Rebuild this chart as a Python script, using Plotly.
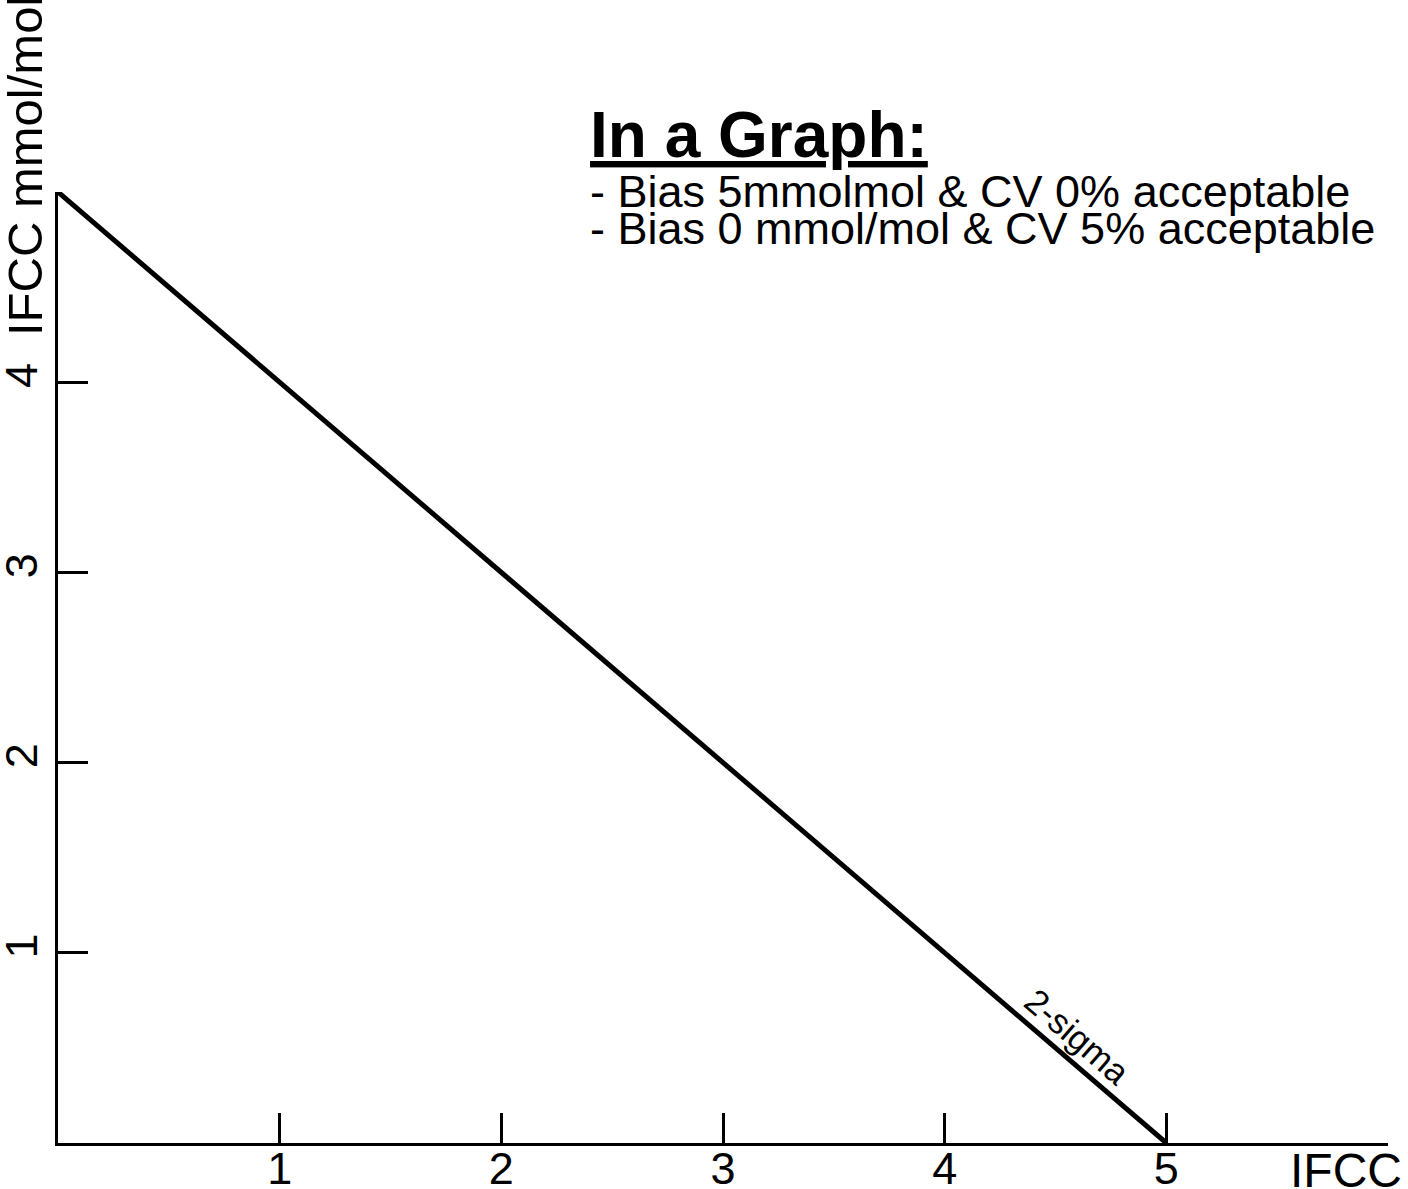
import plotly.graph_objects as go

# Data
line_x = [0, 5]
line_y = [5, 0]
x_tickvals = [1, 2, 3, 4, 5, 6]
x_ticktext = ["1", "2", "3", "4", "5", ""]
y_tickvals = [1, 2, 3, 4, 5]
y_ticktext = ["1", "2", "3", "4", ""]
x_axis_label = "IFCC"
y_axis_label = "IFCC mmol/mol"
line_label = "2-sigma"
title_text = "In a Graph:"
bullets = ["- Bias 5mmolmol & CV 0% acceptable", "- Bias 0 mmol/mol & CV 5% acceptable"]

W, H = 1408, 1189
L, R, T, B = 58, 20, 192, 46
PW, PH = W - L - R, H - T - B


def px(xp):
    return (xp - L) / PW


def py(yp):
    return (H - B - yp) / PH


fig = go.Figure()
fig.add_trace(go.Scatter(x=line_x, y=line_y, mode="lines",
                         line=dict(color="black", width=5), showlegend=False,
                         hoverinfo="skip", cliponaxis=False))

font_main = "Liberation Sans, Arial, sans-serif"

fig.update_layout(
    width=W, height=H,
    margin=dict(l=L, r=R, t=T, b=B, autoexpand=False),
    paper_bgcolor="white", plot_bgcolor="white",
    showlegend=False,
    xaxis=dict(range=[0, 6], tickvals=x_tickvals, ticktext=x_ticktext,
               ticks="inside", ticklen=30, tickwidth=3, tickcolor="black",
               showline=True, linecolor="black", linewidth=3,
               showgrid=False, zeroline=False, automargin=False,
               ticklabelstandoff=-16,
               tickfont=dict(family=font_main, size=45, color="black")),
    yaxis=dict(range=[0, 5], tickvals=y_tickvals, ticktext=y_ticktext,
               ticks="inside", ticklen=30, tickwidth=3, tickcolor="black",
               showline=True, linecolor="black", linewidth=3,
               showgrid=False, zeroline=False, tickangle=-90, automargin=False,
               tickfont=dict(family=font_main, size=45, color="black")),
)

# axis-end labels
fig.add_annotation(x=px(1404), y=py(1142), xref="paper", yref="paper",
                   xanchor="right", yanchor="top",
                   text=x_axis_label, showarrow=False,
                   font=dict(family=font_main, size=48, color="black"))
fig.add_annotation(x=px(54), y=py(338), xref="paper", yref="paper",
                   xanchor="right", yanchor="bottom",
                   text=y_axis_label, showarrow=False, textangle=-90,
                   font=dict(family=font_main, size=49, color="black"))

# label along the line
fig.add_annotation(x=4.60, y=0.56, xref="x", yref="y", text=line_label, showarrow=False,
                   textangle=40.8, font=dict(family=font_main, size=35, color="black"))

# heading text
fig.add_annotation(x=px(588), y=py(135), xref="paper", yref="paper",
                   xanchor="left", yanchor="middle",
                   text="<b><u>" + title_text + "</u></b>", showarrow=False,
                   font=dict(family=font_main, size=64, color="black"))
for i, b in enumerate(bullets):
    fig.add_annotation(x=px(588), y=py(191 + 37 * i), xref="paper", yref="paper",
                       xanchor="left", yanchor="middle",
                       text=b, showarrow=False, align="left",
                       font=dict(family=font_main, size=45, color="black"))

fig.write_html("out.html",
               config={"displayModeBar": False},
               post_script="document.body.style.margin='0px';document.body.style.padding='0px';")
